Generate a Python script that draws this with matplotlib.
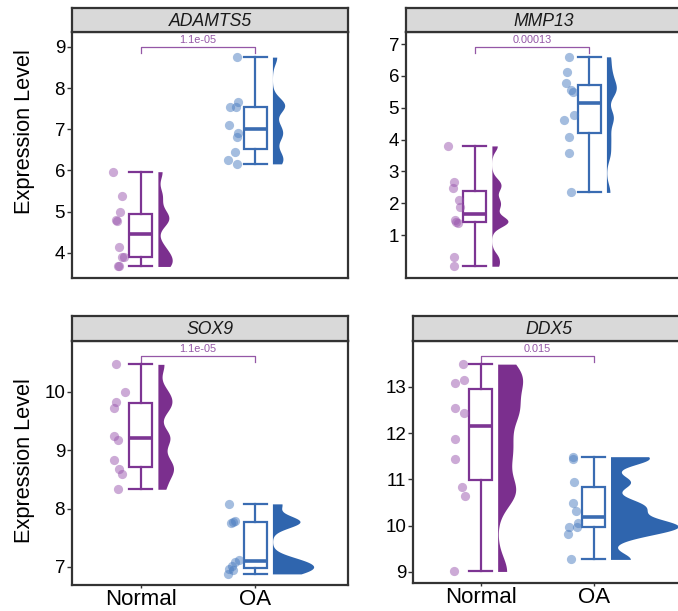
import numpy as np
import matplotlib.pyplot as plt
from matplotlib.transforms import blended_transform_factory

plt.rcParams['font.family'] = ['Liberation Sans', 'DejaVu Sans']

groups = ['Normal', 'OA']
genes = ['ADAMTS5', 'MMP13', 'SOX9', 'DDX5']
p_values = ['1.1e-05', '0.00013', '1.1e-05', '0.015']

# expression values (10 samples per group)
adamts5_normal = [5.97, 5.39, 4.99, 4.80, 4.78, 4.14, 3.91, 3.89, 3.68, 3.67]
adamts5_oa = [8.75, 7.67, 7.55, 7.53, 7.11, 6.91, 6.81, 6.44, 6.26, 6.16]
mmp13_normal = [3.80, 2.67, 2.47, 2.10, 1.87, 1.47, 1.42, 1.39, 0.30, 0.02]
mmp13_oa = [6.60, 6.13, 5.78, 5.55, 5.50, 4.77, 4.63, 4.07, 3.57, 2.34]
sox9_normal = [10.47, 10.00, 9.83, 9.72, 9.25, 9.18, 8.83, 8.68, 8.60, 8.33]
sox9_oa = [8.08, 7.79, 7.77, 7.76, 7.12, 7.09, 7.02, 6.97, 6.94, 6.88]
ddx5_normal = [13.49, 13.15, 13.08, 12.54, 12.44, 11.87, 11.44, 10.84, 10.64, 9.01]
ddx5_oa = [11.49, 11.43, 10.94, 10.48, 10.32, 10.06, 9.98, 9.98, 9.81, 9.27]

# horizontal jitter of the points
adamts5_normal_dx = [-0.24, -0.16, -0.18, -0.22, -0.21, -0.19, -0.15, -0.16, -0.19, -0.20]
adamts5_oa_dx = [-0.16, -0.15, -0.17, -0.22, -0.23, -0.15, -0.16, -0.18, -0.24, -0.16]
mmp13_normal_dx = [-0.23, -0.18, -0.19, -0.14, -0.13, -0.17, -0.16, -0.15, -0.18, -0.18]
mmp13_oa_dx = [-0.18, -0.19, -0.20, -0.16, -0.14, -0.13, -0.22, -0.18, -0.18, -0.16]
sox9_normal_dx = [-0.22, -0.14, -0.22, -0.23, -0.23, -0.20, -0.23, -0.19, -0.16, -0.20]
sox9_oa_dx = [-0.23, -0.18, -0.19, -0.21, -0.14, -0.18, -0.20, -0.23, -0.19, -0.24]
ddx5_normal_dx = [-0.16, -0.15, -0.23, -0.23, -0.15, -0.23, -0.23, -0.17, -0.14, -0.24]
ddx5_oa_dx = [-0.18, -0.18, -0.17, -0.18, -0.16, -0.14, -0.22, -0.15, -0.23, -0.20]

W, H = 678, 611
PURPLE = '#7B2F8E'
BLUE = '#2F65AE'
BOX_COLORS = ['#7D3593', '#3A6CB2']
PT_COLORS = ['#9A57AE', '#4A7CC0']
SIG = '#9457A6'
EDGE = '#333333'

fig = plt.figure(figsize=(W / 100, H / 100), dpi=100)


def px_axes(x0, y0, x1, y1):
    return fig.add_axes([x0 / W, 1 - y1 / H, (x1 - x0) / W, (y1 - y0) / H])


def kde(vals, adjust=0.4):
    v = np.asarray(vals)
    n = len(v)
    q75, q25 = np.percentile(v, [75, 25])
    bw = adjust * 0.9 * min(v.std(ddof=1), (q75 - q25) / 1.34) * n ** -0.2
    y = np.linspace(v.min(), v.max(), 300)
    d = np.exp(-0.5 * ((y[:, None] - v[None, :]) / bw) ** 2).sum(1) / (n * bw * np.sqrt(2 * np.pi))
    return y, d


def panel(box, strip, gene, pval, data, dx, ylim, yticks, vmax, bottom):
    ax = px_axes(*box)
    dens = [kde(d) for d in data]
    peak = max(d.max() for _, d in dens)
    for i, (vals, offs) in enumerate(zip(data, dx)):
        x = i + 1
        yy, dd = dens[i]
        ax.fill_betweenx(yy, x + 0.15, x + 0.15 + dd / peak * vmax,
                         color=[PURPLE, BLUE][i], lw=0, zorder=2)
        c = BOX_COLORS[i]
        ax.boxplot(vals, positions=[x], widths=0.2, whis=1.5, showfliers=False,
                   patch_artist=True, capwidths=0.2,
                   boxprops=dict(facecolor='white', edgecolor=c, lw=1.6),
                   whiskerprops=dict(color=c, lw=1.6),
                   capprops=dict(color=c, lw=1.6),
                   medianprops=dict(color=c, lw=2.6), zorder=3)
        ax.scatter(x + np.asarray(offs), vals, s=44, color=PT_COLORS[i],
                   alpha=0.5, lw=0, zorder=4)
    # significance bracket
    tr = blended_transform_factory(ax.transData, ax.transAxes)
    ax.plot([1, 1, 2, 2], [0.915, 0.94, 0.94, 0.915], color=SIG, lw=0.9,
            transform=tr, clip_on=False)
    ax.text(1.5, 0.947, pval, color=SIG, fontsize=7.8, ha='center', va='bottom',
            transform=tr)
    ax.set_xlim(0.4, 2.81)
    ax.set_ylim(*ylim)
    ax.set_yticks(yticks)
    ax.tick_params(axis='y', labelsize=13.5, length=3.5, width=1, color=EDGE, pad=1.5)
    if bottom:
        ax.set_xticks([1, 2], groups)
        ax.tick_params(axis='x', labelsize=16, length=2.5, width=1, color=EDGE, pad=0.6)
    else:
        ax.set_xticks([])
    for s in ax.spines.values():
        s.set_linewidth(1.6)
        s.set_color(EDGE)
    # facet strip
    sx = px_axes(*strip)
    sx.set_facecolor('#D9D9D9')
    sx.set_xticks([])
    sx.set_yticks([])
    for s in sx.spines.values():
        s.set_linewidth(1.6)
        s.set_color(EDGE)
    sx.text(0.5, 0.45, gene, style='italic', fontsize=12.7, color='#1A1A1A',
            ha='center', va='center', transform=sx.transAxes)
    return ax


panel((72, 32, 348, 278), (72, 8, 348, 32), genes[0], p_values[0],
      [adamts5_normal, adamts5_oa], [adamts5_normal_dx, adamts5_oa_dx],
      (3.39, 9.36), [4, 5, 6, 7, 8, 9], 0.125, False)
panel((406, 32, 682, 278), (406, 8, 682, 32), genes[1], p_values[1],
      [mmp13_normal, mmp13_oa], [mmp13_normal_dx, mmp13_oa_dx],
      (-0.35, 7.38), [1, 2, 3, 4, 5, 6, 7], 0.14, False)
panel((72, 341, 348, 585), (72, 316, 348, 341), genes[2], p_values[2],
      [sox9_normal, sox9_oa], [sox9_normal_dx, sox9_oa_dx],
      (6.69, 10.87), [7, 8, 9, 10], 0.36, True)
panel((413, 341, 685, 583), (413, 316, 685, 341), genes[3], p_values[3],
      [ddx5_normal, ddx5_oa], [ddx5_normal_dx, ddx5_oa_dx],
      (8.76, 13.99), [9, 10, 11, 12, 13], 0.6, True)

fig.text(25 / W, 1 - 132 / H, 'Expression Level', rotation=90, fontsize=15.7,
         ha='center', va='center')
fig.text(25 / W, 1 - 461 / H, 'Expression Level', rotation=90, fontsize=15.7,
         ha='center', va='center')

fig.savefig('out.png', dpi=100)
